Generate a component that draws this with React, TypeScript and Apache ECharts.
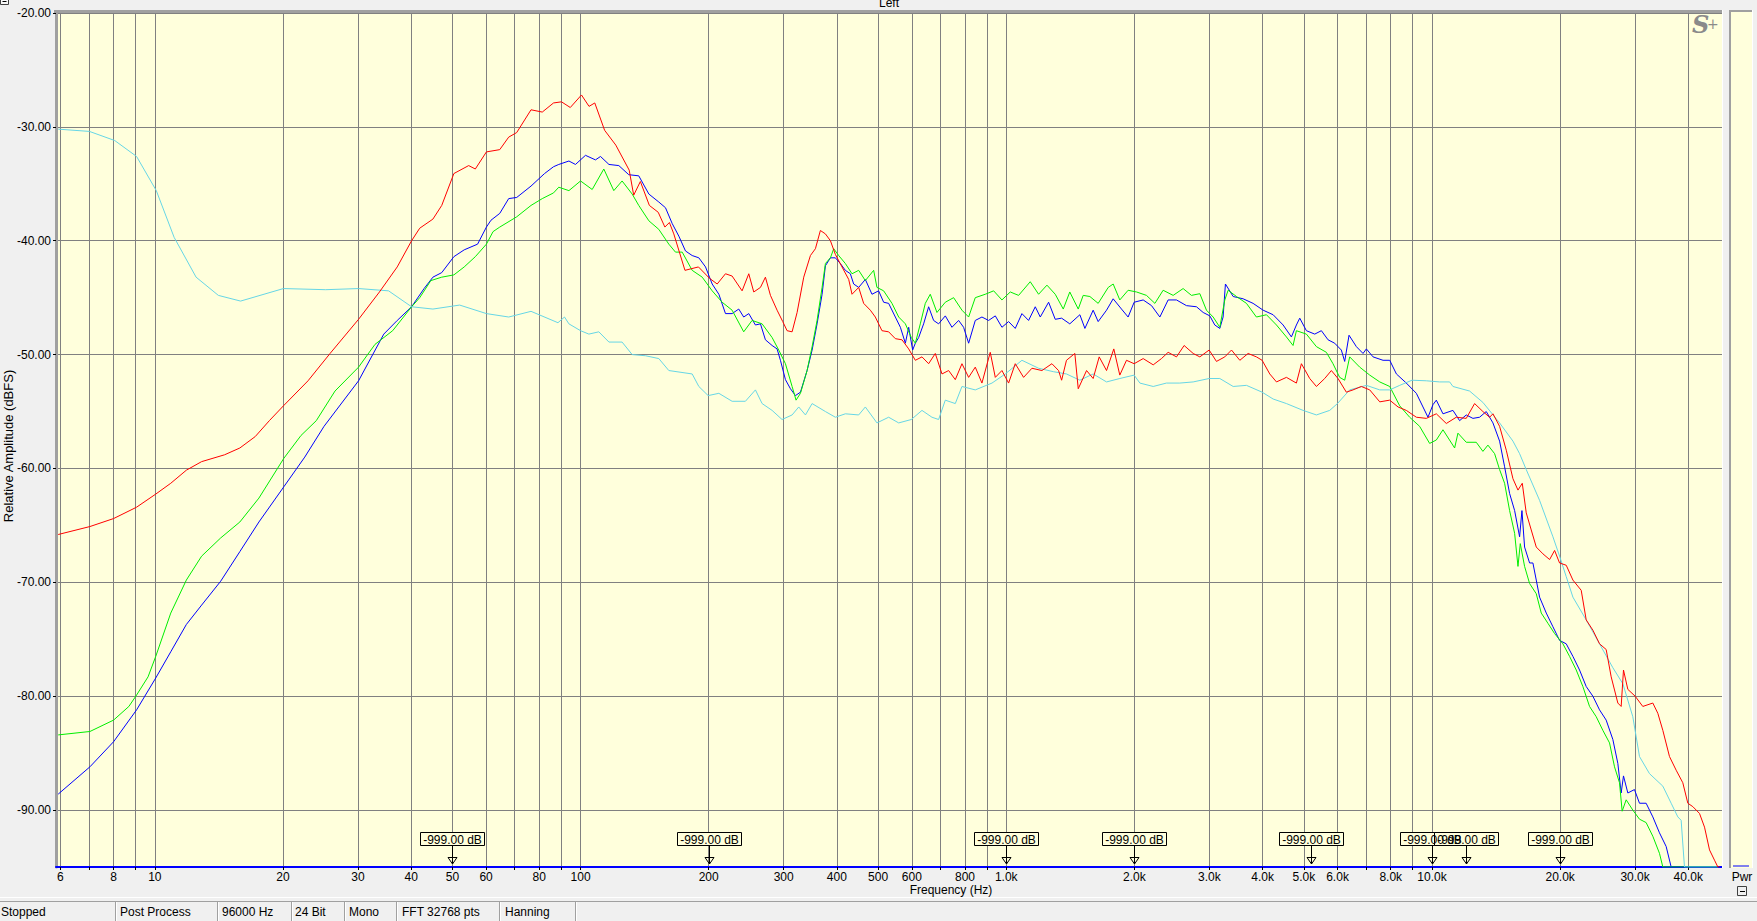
import React, { useEffect, useRef } from 'react';
import * as echarts from 'echarts';

const FONT = '"Liberation Sans", Arial, Helvetica, sans-serif';

// ---- axis definitions ----
const xMin = 5.859375;
const xMax = 48000;
const yMin = -95;
const yMax = -20;
const xGridValues = [6, 7, 8, 9, 10, 20, 30, 40, 50, 60, 70, 80, 90, 100, 200, 300, 400, 500, 600, 700, 800, 900,
  1000, 2000, 3000, 4000, 5000, 6000, 7000, 8000, 9000, 10000, 20000, 30000, 40000];
const xLabelValues = [6, 8, 10, 20, 30, 40, 50, 60, 80, 100, 200, 300, 400, 500, 600, 800,
  1000, 2000, 3000, 4000, 5000, 6000, 8000, 10000, 20000, 30000, 40000];
const yTickValues = [-90, -80, -70, -60, -50, -40, -30, -20];

// ---- markers ----
const markerFreqs = [50, 200, 1000, 2000, 5200, 10000, 12000, 20000];
const markerLabel = '-999.00 dB';

// ---- status bar ----
const statusItems = ['Stopped', 'Post Process', '96000 Hz', '24 Bit', 'Mono', 'FFT 32768 pts', 'Hanning'];

// ---- series: [frequency Hz, dBFS] ----
const blue: [number, number][] = [
  [5.93, -88.6], [7.04, -86.2], [8.0, -84.0], [9.06, -81.2], [10.05, -78.4], [10.9, -76.1], [11.86, -73.7], [12.88, -72.0],
  [14.28, -69.9], [15.84, -67.3], [17.56, -64.7], [20.1, -61.6], [22.5, -59.0], [24.97, -56.3], [30.1, -52.3], [34.5, -48.2],
  [37.1, -47.0], [40.1, -45.8], [42.9, -44.2], [45, -43.2], [47.2, -42.8], [50.4, -41.4], [53.3, -40.8], [57.3, -40.3],
  [60.1, -38.8], [61.6, -38.2], [64.6, -37.6], [67.8, -36.3], [70.8, -36.2], [76.5, -35.2], [82.3, -34.1], [86.4, -33.5],
  [88.9, -33.3], [93.9, -33.0], [97.3, -33.3], [102.7, -32.5], [108.4, -32.9], [111.4, -32.6], [116.6, -33.3], [123, -33.4],
  [129.8, -34.2], [137, -34.3], [144.7, -35.9], [152.7, -36.6], [158.3, -37.1], [164.2, -38.5], [170.2, -39.6], [176.4, -40.9],
  [182.9, -41.3], [189.6, -41.5], [196.6, -42.3], [203.8, -43.8], [211.3, -44.7], [219, -46.4], [227, -46.4], [235.3, -46.0],
  [241.7, -46.7], [248.4, -46.4], [257.5, -47.4], [264.6, -47.3], [271.8, -48.7], [281.8, -49.2], [289.5, -49.5], [294.8, -50.5],
  [302.9, -52.2], [311.2, -53.0], [319.7, -53.6], [328.5, -53.3], [340.5, -51.4], [349.9, -49.6], [359.4, -47.3], [369.3, -44.7],
  [376, -42.2], [386.3, -41.5], [396.8, -41.5], [407.6, -42.0], [418.8, -42.6], [430.3, -42.9], [438.1, -43.8], [450.1, -44.1],
  [466.6, -43.4], [483.7, -44.7], [501.4, -44.4], [515.2, -45.4], [529.3, -45.5], [548.8, -46.7], [564, -47.6], [579.4, -49.0],
  [589.9, -47.6], [602.7, -49.6], [611.5, -49.0], [622.6, -48.5], [639.6, -47.3], [657.1, -45.8], [675.1, -47.0], [693.6, -47.3],
  [719.1, -46.6], [745.5, -47.6], [772.8, -47.0], [794, -47.6], [815.8, -49.0], [845.7, -47.0], [876.7, -46.7], [908.8, -47.0],
  [942.4, -46.6], [976.8, -47.6], [1012.7, -47.1], [1049.8, -47.7], [1088.4, -46.4], [1128.3, -47.0], [1169.9, -45.8], [1201.9, -46.7],
  [1257.3, -45.4], [1303.3, -46.9], [1349, -46.8], [1410, -47.3], [1489, -46.5], [1530, -47.7], [1600, -46.1], [1644, -47.1],
  [1720, -46.1], [1783, -45.1], [1865, -46.0], [1933, -46.7], [1997, -45.4], [2097, -45.2], [2194, -45.7], [2295, -46.7],
  [2400, -45.2], [2511, -45.2], [2650, -45.7], [2798, -45.8], [2901, -46.3], [3007, -46.6], [3089, -47.4], [3174, -47.7],
  [3231, -46.7], [3272, -43.8], [3412, -44.9], [3601, -45.1], [3800, -45.5], [4012, -46.1], [4235, -46.5], [4470, -47.4],
  [4675, -48.45], [4803, -47.4], [4891, -46.8], [5070, -47.9], [5304, -48.2], [5498, -47.9], [5700, -48.7], [5908, -49.0],
  [6124, -49.6], [6237, -50.6], [6385, -48.3], [6643, -49.3], [6887, -49.9], [7013, -49.5], [7271, -50.2], [7674, -50.5],
  [7957, -50.5], [8249, -51.7], [8704, -52.5], [9189, -53.4], [9525, -54.6], [9786, -55.5], [10054, -54.4], [10237, -54.0],
  [10612, -55.2], [11201, -54.9], [11612, -55.8], [12037, -55.3], [12479, -55.6], [12937, -55.5], [13412, -55.0], [13906, -56.0],
  [14416, -57.6], [14811, -59.85], [15218, -62.2], [15636, -63.7], [16063, -66.0], [16267, -63.7], [16501, -66.9], [16954, -68.3],
  [17262, -68.3], [17577, -69.8], [17895, -71.3], [18555, -72.7], [19236, -73.9], [19939, -75.1], [20669, -75.4], [21429, -76.5],
  [22214, -77.7], [23029, -79.15], [23873, -80.0], [24750, -81.2], [25656, -82.1], [26598, -83.8], [27326, -85.9], [27821, -88.5],
  [28174, -87.0], [28844, -88.5], [29897, -88.2], [30720, -89.4], [31845, -89.4], [33018, -90.6], [34227, -92.0], [35489, -93.2],
  [36460, -95], [47000, -95],
];

const green: [number, number][] = [
  [5.93, -83.4], [7.04, -83.1], [8.0, -82.1], [8.69, -80.9], [9.06, -79.9], [9.64, -78.3], [10.05, -76.5], [10.9, -72.7],
  [11.86, -69.8], [12.88, -67.7], [14.28, -66.1], [15.84, -64.7], [17.56, -62.6], [20.1, -59.1], [22.05, -57.1], [23.95, -55.8],
  [26.5, -53.2], [30.1, -51.1], [32.9, -49.1], [36.2, -47.9], [40.1, -45.8], [41.9, -45.0], [44.5, -43.5], [47.2, -43.2],
  [50.4, -43.0], [53.3, -42.3], [56.6, -41.4], [60.1, -40.3], [62.3, -39.2], [64.6, -38.8], [70.8, -37.9], [76.5, -36.9],
  [81.3, -36.3], [86.4, -35.8], [88.9, -35.3], [93.9, -35.6], [100, -34.75], [106.5, -35.5], [113.4, -33.7], [119.7, -35.6],
  [125.2, -34.75], [132.2, -35.9], [137, -36.9], [144.7, -38.25], [152.7, -39.0], [161.2, -40.3], [167.1, -41.0], [173.3, -41.0],
  [182.9, -42.6], [193.1, -43.2], [203.8, -44.4], [215.1, -45.4], [227, -46.1], [241.7, -48.0], [252.9, -47.0], [267, -47.3],
  [281.8, -48.5], [292.1, -49.6], [302.9, -50.8], [314, -52.8], [320.8, -54.0], [328.5, -53.4], [340.5, -51.4], [349.9, -49.3],
  [359.4, -47.0], [369.3, -44.1], [376, -42.0], [386.3, -41.5], [393.3, -40.7], [404, -41.3], [418.8, -42.0], [434.2, -42.9],
  [450.1, -42.6], [466.6, -43.5], [488.1, -42.6], [496.9, -44.1], [515.2, -44.4], [539, -45.5], [558.9, -46.7], [579.4, -47.3],
  [598.4, -48.5], [611.5, -49.0], [628.2, -47.3], [645.4, -45.5], [663, -44.7], [687.4, -46.3], [719.1, -45.4], [752.2, -45.0],
  [786.9, -46.1], [815.8, -46.7], [845.7, -45.0], [892.6, -44.7], [934, -44.4], [976.8, -45.2], [1021.9, -44.5], [1069, -44.8],
  [1138.5, -43.6], [1191.1, -44.7], [1246.1, -43.9], [1303.3, -44.7], [1361, -46.0], [1410, -44.5], [1476, -46.0], [1516, -44.8],
  [1572, -44.9], [1644, -45.5], [1736, -44.1], [1783, -43.8], [1848, -45.2], [1933, -44.35], [2023, -44.5], [2135, -44.8],
  [2234, -45.5], [2336, -44.35], [2466, -44.8], [2603, -44.2], [2723, -44.8], [2849, -44.65], [2953, -46.1], [3062, -46.7],
  [3174, -47.6], [3261, -45.2], [3320, -44.35], [3474, -44.9], [3666, -45.5], [3869, -46.7], [4085, -46.5], [4312, -47.4],
  [4551, -48.45], [4717, -49.2], [4803, -47.9], [5070, -48.2], [5352, -49.3], [5648, -49.8], [5855, -50.8], [6069, -52.0],
  [6237, -52.25], [6407, -50.2], [6764, -51.1], [7141, -51.8], [7539, -52.4], [7957, -52.8], [8399, -54.5], [8863, -55.5],
  [9354, -56.3], [9874, -57.8], [10237, -57.5], [10612, -56.6], [11303, -58.2], [11508, -56.9], [12037, -57.7], [12706, -57.7],
  [13172, -58.5], [13533, -57.95], [14032, -58.7], [14416, -60.1], [14811, -61.3], [15218, -63.7], [15636, -65.7], [15922, -68.6],
  [16121, -66.6], [16501, -68.6], [16954, -70.1], [17577, -71.0], [18060, -72.7], [18723, -73.6], [19410, -74.5], [20301, -75.4],
  [21045, -76.5], [21818, -77.7], [22617, -79.15], [23447, -80.9], [24308, -81.8], [25199, -83.0], [26124, -84.1], [26838, -86.2],
  [27572, -87.6], [27972, -90.1], [28586, -89.1], [29630, -90.0], [30720, -90.8], [31845, -91.1], [33018, -92.3], [34227, -93.8],
  [34856, -95], [47000, -95],
];

const cyan: [number, number][] = [
  [5.93, -30.2], [7.02, -30.4], [8.05, -31.2], [9.06, -32.6], [10.08, -35.6], [11.1, -39.7], [12.5, -43.2], [14.1, -44.8],
  [15.9, -45.3], [20.05, -44.2], [25.2, -44.3], [30.1, -44.2], [35.4, -44.4], [40.1, -45.8], [45, -46.0], [52, -45.65],
  [60.1, -46.4], [67.8, -46.7], [76.5, -46.2], [88.5, -47.2], [91.7, -46.7], [93.9, -47.3], [100, -47.9], [104.6, -48.2],
  [110.4, -48.0], [116.6, -48.9], [125.2, -48.9], [132.2, -50.0], [142.1, -50.1], [152.7, -50.35], [161.2, -51.4], [182.9, -51.7],
  [189.6, -52.8], [199.4, -53.6], [211.3, -53.4], [227, -54.1], [243.9, -54.1], [257.5, -53.1], [267, -54.3], [281.8, -54.9],
  [297.4, -55.7], [314, -55.3], [325.5, -54.6], [337.5, -55.3], [349.9, -54.3], [376, -55.0], [396.8, -55.5], [418.8, -55.2],
  [450.1, -55.3], [466.6, -54.6], [496.9, -56.0], [529.3, -55.5], [558.9, -56.0], [598.4, -55.7], [633.9, -54.9], [669, -55.5],
  [693.6, -55.7], [719.1, -54.0], [759, -54.3], [786.9, -52.8], [845.7, -53.1], [925.7, -52.5], [994.7, -51.7], [1088.4, -50.5],
  [1191.1, -51.2], [1290, -51.5], [1385, -51.7], [1489, -52.25], [1600, -51.7], [1720, -52.4], [1848, -52.1], [1997, -51.8],
  [2060, -52.5], [2214, -52.8], [2378, -52.5], [2556, -52.5], [2748, -52.4], [2996, -52.1], [3174, -52.1], [3412, -52.8],
  [3666, -52.7], [3990, -53.3], [4235, -53.9], [4551, -54.3], [4980, -54.9], [5352, -55.3], [5751, -54.9], [5997, -54.3],
  [6407, -53.1], [7013, -52.7], [7539, -53.1], [7957, -53.1], [8399, -52.7], [8975, -52.25], [9698, -52.3], [10423, -52.4],
  [11003, -52.4], [11201, -52.8], [12256, -53.2], [13172, -54.2], [14416, -56.0], [15494, -57.6], [16063, -58.7], [16650, -60.1],
  [17895, -62.8], [19236, -66.0], [19939, -67.7], [20669, -69.5], [21429, -71.3], [23029, -73.3], [24750, -75.4], [26598, -77.5],
  [28074, -78.9], [29630, -81.8], [30720, -85.3], [32429, -86.8], [34856, -87.9], [36460, -89.4], [37798, -90.6], [38485, -90.9],
  [39182, -95], [47000, -95],
];

const red: [number, number][] = [
  [5.93, -65.8], [7.04, -65.1], [8.0, -64.4], [9.06, -63.4], [10.05, -62.25], [10.9, -61.3], [11.86, -60.15], [12.88, -59.4],
  [14.58, -58.8], [15.84, -58.2], [17.21, -57.2], [18.58, -55.8], [20.05, -54.5], [22.9, -52.3], [25.8, -49.9], [30.1, -46.9],
  [33.7, -44.5], [37.1, -42.3], [40.1, -40.0], [41.9, -38.9], [45, -38.1], [47.2, -36.9], [50.4, -34.1], [54.6, -33.4],
  [56.6, -33.7], [60.1, -32.2], [64.6, -32.0], [67.8, -30.9], [70.8, -30.5], [76.5, -28.5], [81.3, -28.7], [86.4, -27.9],
  [90.2, -27.8], [94.6, -28.3], [100.5, -27.2], [104.7, -28.2], [108, -27.9], [113.9, -30.3], [121, -31.6], [130.1, -33.8],
  [133.3, -36.0], [138.2, -34.8], [145.1, -36.9], [152.2, -37.5], [157.8, -38.8], [161.7, -38.4], [165.6, -39.4], [175.9, -42.6],
  [189.2, -42.3], [200.9, -43.3], [209.4, -43.8], [219, -42.9], [227, -43.1], [239.6, -44.4], [248.4, -42.9], [255.2, -44.5],
  [264.6, -44.1], [271.8, -43.2], [279.3, -44.8], [289.5, -46.1], [298.5, -47.1], [305.6, -47.9], [314, -48.0], [322.6, -46.3],
  [334.4, -43.2], [346.7, -41.3], [356.2, -40.7], [365.9, -39.1], [376, -39.4], [386.3, -40.0], [396.8, -41.2], [411.3, -42.3],
  [426.5, -43.4], [434.2, -44.7], [450.1, -44.1], [462.4, -45.5], [479.4, -46.1], [492.5, -46.7], [510.5, -47.9], [529.3, -48.0],
  [548.8, -48.6], [569, -48.7], [589.9, -49.5], [611.5, -50.5], [633.9, -50.2], [657.1, -50.8], [681.2, -49.9], [706.3, -51.7],
  [732.2, -51.4], [759, -52.2], [786.9, -50.8], [815.8, -52.0], [845.7, -51.1], [876.7, -52.5], [917, -49.8], [942.4, -52.0],
  [976.8, -51.4], [1012.7, -52.5], [1049.8, -50.8], [1098.2, -52.0], [1149, -51.2], [1212.7, -51.4], [1280.1, -50.8], [1326.9, -51.4],
  [1349, -52.25], [1385, -50.5], [1449, -49.9], [1476, -53.0], [1544, -51.4], [1600, -52.1], [1653, -50.2], [1720, -51.4],
  [1789, -49.5], [1848, -51.8], [1916, -50.5], [1997, -50.8], [2097, -50.35], [2214, -50.9], [2315, -50.35], [2400, -49.8],
  [2511, -50.2], [2617, -49.2], [2748, -49.9], [2849, -50.2], [2996, -49.6], [3117, -50.6], [3261, -50.2], [3381, -49.6],
  [3537, -50.5], [3699, -49.9], [3869, -50.2], [3990, -50.5], [4159, -51.7], [4312, -52.4], [4551, -52.0], [4803, -52.5],
  [4935, -50.8], [5162, -52.1], [5352, -52.8], [5598, -52.1], [5803, -51.4], [6015, -52.1], [6293, -53.3], [6524, -53.1],
  [6825, -52.8], [7141, -53.1], [7539, -54.15], [7957, -54.0], [8324, -54.6], [8704, -54.9], [9189, -55.5], [9698, -55.6],
  [10237, -55.2], [10805, -56.05], [11404, -55.5], [12037, -55.6], [12592, -54.3], [13172, -55.0], [13657, -55.5], [13906, -55.2],
  [14416, -56.3], [14946, -58.4], [15494, -60.9], [15922, -61.9], [16296, -61.3], [16650, -63.9], [17107, -65.4], [17577, -66.9],
  [18224, -67.5], [18893, -68.0], [19410, -67.2], [19939, -68.3], [20669, -68.5], [21429, -69.8], [22415, -70.7], [23029, -73.3],
  [23873, -74.2], [24750, -75.4], [25656, -75.9], [26360, -78.3], [27326, -80.6], [27821, -80.9], [28174, -77.7], [28844, -79.4],
  [30007, -80.0], [31277, -80.9], [33018, -80.6], [33921, -81.5], [34856, -83.0], [36134, -85.3], [37460, -86.5], [38832, -87.6],
  [39902, -89.4], [41000, -89.7], [42505, -90.3], [43671, -91.5], [44866, -93.5], [46090, -94.4], [46930, -95], [47400, -95],
];

const PLOT_BG = '#ffffdc';
const PAGE_BG = '#f0f0f0';
const GRID_C = '#808080';

function fmtFreq(v: number): string {
  if (v >= 999) return (v / 1000).toFixed(1) + 'k';
  return String(Math.round(v));
}

function txt(text: string, x: number, y: number, opts: any = {}) {
  const align = opts.align || 'left';
  const va = opts.va || 'middle';
  return {
    type: 'text',
    x,
    y,
    rotation: opts.rotation || 0,
    z: 100,
    silent: true,
    style: {
      text,
      fill: opts.color || '#000',
      font: opts.font || `12px ${FONT}`,
      align,
      verticalAlign: va,
      textAlign: align,
      textVerticalAlign: va,
    },
  };
}

function rect(x: number, y: number, w: number, h: number, style: any) {
  return { type: 'rect', z: 100, silent: true, shape: { x, y, width: w, height: h }, style };
}

function line(x1: number, y1: number, x2: number, y2: number, stroke: string) {
  return { type: 'line', z: 100, silent: true, shape: { x1, y1, x2, y2 }, style: { stroke, lineWidth: 1 } };
}

function buildGraphics() {
  const els: any[] = [];
  // top-left mini box
  els.push(rect(0.5, -4.5, 8, 9, { fill: '#f8f8f8', stroke: '#404040', lineWidth: 1 }));
  els.push(line(2.5, 1.5, 6.5, 1.5, '#000'));
  // title
  els.push(txt('Left', 889, 2.5, { align: 'center' }));
  // top border of plot
  els.push(rect(54, 10, 1668, 3, { fill: '#a0a0a0' }));
  // white edge on plot right
  els.push(rect(1722, 10, 1, 858, { fill: '#ffffff' }));
  // Pwr panel
  els.push(rect(1729, 10, 24, 858, { fill: '#ffffff' }));
  els.push(rect(1729, 10, 23, 858, { fill: PLOT_BG }));
  els.push(rect(1729, 10, 2, 858, { fill: '#a0a0a0' }));
  els.push(rect(1729, 10, 23, 2, { fill: '#a0a0a0' }));
  els.push(line(1733, 866, 1749, 866, '#0000ff'));
  els.push(txt('Pwr', 1742, 877, { align: 'center' }));
  els.push(rect(1737.5, 886.5, 9, 9, { fill: PAGE_BG, stroke: '#404040', lineWidth: 1 }));
  els.push(line(1740, 891.5, 1745, 891.5, '#000'));
  // S+ logo
  els.push(txt('S', 1692, 24, { font: `italic bold 24px "DejaVu Serif", "Liberation Serif", serif`, color: '#8a8a8a' }));
  els.push(txt('+', 1707, 24, { font: `14px "DejaVu Serif", serif`, color: '#8a8a8a' }));
  // axis names
  els.push(txt('Relative Amplitude (dBFS)', 8, 446, { align: 'center', rotation: Math.PI / 2, font: `13px ${FONT}` }));
  els.push(txt('Frequency (Hz)', 951, 890, { align: 'center' }));
  // status bar
  els.push(rect(0, 897, 1757, 1, { fill: '#ffffff' }));
  els.push(rect(0, 901, 1757, 1, { fill: '#a0a0a0' }));
  const seps = [115, 217, 291, 344, 396, 499, 575];
  const starts = [1, 120, 222, 295, 349, 402, 505];
  seps.forEach((s) => {
    els.push(rect(s, 902, 1, 19, { fill: '#a0a0a0' }));
    els.push(rect(s + 1, 902, 1, 19, { fill: '#ffffff' }));
  });
  statusItems.forEach((t, i) => els.push(txt(t, starts[i], 912)));
  return els;
}

function markerRender(params: any, api: any) {
  const p = api.coord([api.value(0), yMin]);
  const cx = Math.round(p[0]) + 0.5;
  const by = Math.round(p[1]);
  return {
    type: 'group',
    children: [
      { type: 'polygon', z2: 1, shape: { points: [[cx - 4.5, by - 9.5], [cx + 4.5, by - 9.5], [cx, by - 3]] }, style: { fill: 'none', stroke: '#000', lineWidth: 1 } },
      { type: 'line', z2: 1, shape: { x1: cx, y1: by - 21, x2: cx, y2: by - 3 }, style: { stroke: '#000', lineWidth: 1 } },
      { type: 'rect', z2: 1, shape: { x: Math.round(cx - 32.5) + 0.5, y: by - 34.5, width: 64, height: 13 }, style: { fill: PLOT_BG, stroke: '#000', lineWidth: 1 } },
      { type: 'text', z2: 5, x: cx, y: by - 27.5, style: { text: markerLabel, fill: '#000', font: `12px ${FONT}`, align: 'center', verticalAlign: 'middle', textAlign: 'center', textVerticalAlign: 'middle' } },
    ],
  };
}

function lineSeries(name: string, data: [number, number][], color: string) {
  return {
    name,
    type: 'line',
    data,
    showSymbol: false,
    symbol: 'none',
    silent: true,
    clip: true,
    lineStyle: { color, width: 1 },
    itemStyle: { color },
    emphasis: { disabled: true },
  };
}

export default function App() {
  const ref = useRef<HTMLDivElement>(null);
  useEffect(() => {
    if (!ref.current) return;
    const chart = echarts.init(ref.current, null, { renderer: 'svg', width: 1757, height: 921 });
    chart.setOption({
      animation: false,
      backgroundColor: PAGE_BG,
      textStyle: { fontFamily: FONT },
      grid: { left: 56, right: 35, top: 13, bottom: 54, show: true, backgroundColor: PLOT_BG, borderWidth: 0 },
      xAxis: {
        type: 'log',
        logBase: 10,
        min: xMin,
        max: xMax,
        axisLine: { show: true, onZero: false, lineStyle: { color: '#0000ff', width: 2 } },
        axisTick: { show: true, customValues: xGridValues, length: 3, lineStyle: { color: '#000' } },
        axisLabel: { show: true, customValues: xLabelValues, formatter: (v: number) => fmtFreq(v), margin: 4, color: '#000', fontSize: 12, fontFamily: FONT },
        splitLine: { show: true, lineStyle: { color: GRID_C, width: 1 } },
        minorTick: { show: false },
        minorSplitLine: { show: false },
      },
      yAxis: {
        type: 'value',
        min: yMin,
        max: yMax,
        axisLine: { show: true, onZero: false, lineStyle: { color: '#a0a0a0', width: 3 } },
        axisTick: { show: true, customValues: yTickValues, length: 3, lineStyle: { color: '#000' } },
        axisLabel: { show: true, customValues: yTickValues, formatter: (v: number) => v.toFixed(2), margin: 5, color: '#000', fontSize: 12, fontFamily: FONT },
        splitLine: { show: true, lineStyle: { color: GRID_C, width: 1 } },
      },
      series: [
        lineSeries('blue', blue, '#0000ff'),
        lineSeries('green', green, '#00ee00'),
        lineSeries('cyan', cyan, '#66d6e6'),
        lineSeries('red', red, '#ff0000'),
        {
          type: 'custom',
          coordinateSystem: 'cartesian2d',
          data: markerFreqs.map((f) => [f, yMin]),
          encode: { x: 0, y: 1 },
          renderItem: markerRender,
          silent: true,
          clip: false,
          z: 10,
        },
      ],
      graphic: { elements: buildGraphics() },
    });
    return () => chart.dispose();
  }, []);
  return <div ref={ref} style={{ position: 'fixed', left: 0, top: 0, width: 1757, height: 921 }} />;
}
